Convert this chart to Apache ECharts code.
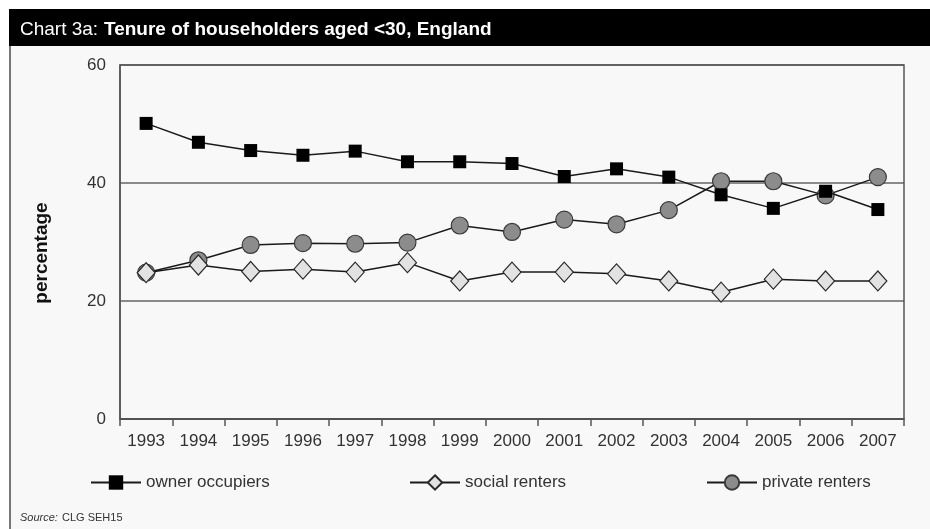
<!DOCTYPE html>
<html><head><meta charset="utf-8">
<script src="https://cdn.jsdelivr.net/npm/echarts@6/dist/echarts.min.js"></script>
<style>html,body{margin:0;padding:0;background:#fff}#c{width:930px;height:529px}</style>
</head><body><div id="c"></div>
<script>
const years = ['1993','1994','1995','1996','1997','1998','1999','2000','2001','2002','2003','2004','2005','2006','2007'];
const ownerOccupiers = [50.1,46.9,45.5,44.7,45.4,43.6,43.6,43.3,41.1,42.4,41.0,38.0,35.7,38.6,35.5];
const socialRenters = [24.8,26.1,25.0,25.4,24.9,26.5,23.4,24.9,24.9,24.6,23.4,21.5,23.7,23.4,23.4];
const privateRenters = [24.8,26.9,29.5,29.8,29.7,29.9,32.8,31.7,33.8,33.0,35.4,40.3,40.3,37.9,41.0];
const yTicks = [0,20,40,60];

const chart = echarts.init(document.getElementById('c'), null, {renderer:'canvas'});
const font = 'Liberation Sans, Arial, sans-serif';
const lineStyle = {color:'#1a1a1a', width:1.5};
const legendBase = {top:469, itemWidth:50, itemHeight:18, itemGap:10,
  textStyle:{fontFamily:font, fontSize:17, color:'#333'}, selectedMode:false};
chart.setOption({
  animation:false,
  backgroundColor:'#fff',
  graphic:[
    {type:'rect', z:-10, shape:{x:9,y:9,width:921,height:520}, style:{fill:'#f8f8f8'}},
    {type:'rect', z:1, shape:{x:9,y:9,width:921,height:37}, style:{fill:'#000'}},
    {type:'line', z:1, shape:{x1:10,y1:46,x2:10,y2:529}, style:{stroke:'#777',lineWidth:2}},
    {type:'text', z:20, x:20, y:20, style:{text:'Chart 3a:', font:'19px Liberation Sans, Arial, sans-serif', fill:'#fff'}},
    {type:'text', z:20, x:104, y:20, style:{text:'Tenure of householders aged <30, England', font:'bold 19px Liberation Sans, Arial, sans-serif', fill:'#fff'}},
    {type:'text', z:20, x:20, y:512, style:{text:'Source:', font:'italic 11px Liberation Sans, Arial, sans-serif', fill:'#333'}},
    {type:'text', z:20, x:62, y:512, style:{text:'CLG SEH15', font:'11px Liberation Sans, Arial, sans-serif', fill:'#333'}},
    {type:'text', z:20, x:42, y:253, rotation:Math.PI/2, style:{text:'percentage', font:'bold 19px Liberation Sans, Arial, sans-serif', fill:'#111', align:'center', verticalAlign:'middle'}},
    {type:'rect', z:5, shape:{x:120,y:65,width:784,height:354}, style:{fill:'none',stroke:'#555',lineWidth:1.5}}
  ],
  grid:{left:120, right:26, top:65, bottom:110, show:false},
  xAxis:{type:'category', data:years, boundaryGap:true,
    axisLine:{lineStyle:{color:'#333',width:1.5}},
    axisTick:{show:true, length:7, lineStyle:{color:'#555',width:1.5}},
    axisLabel:{fontFamily:font, fontSize:17, color:'#333', margin:14, interval:0}},
  yAxis:{type:'value', min:yTicks[0], max:yTicks[yTicks.length-1], interval:20,
    axisLine:{show:true, lineStyle:{color:'#555',width:1.5}},
    axisTick:{show:false},
    axisLabel:{fontFamily:font, fontSize:17, color:'#333', margin:14},
    splitLine:{show:true, lineStyle:{color:'#666', width:1.5}}},
  legend:[
    Object.assign({left:85, data:['owner occupiers']}, legendBase),
    Object.assign({left:404, data:['social renters']}, legendBase),
    Object.assign({left:701, data:['private renters']}, legendBase)
  ],
  series:[
    {name:'private renters', type:'line', data:privateRenters, z:2,
      symbol:'circle', symbolSize:17, lineStyle:lineStyle,
      itemStyle:{color:'#8c8c8c', borderColor:'#3a3a3a', borderWidth:1.2}},
    {name:'social renters', type:'line', data:socialRenters, z:3,
      symbol:'diamond', symbolSize:[18,20], lineStyle:lineStyle,
      itemStyle:{color:'#e2e2e2', borderColor:'#2a2a2a', borderWidth:1.2}},
    {name:'owner occupiers', type:'line', data:ownerOccupiers, z:4,
      symbol:'rect', symbolSize:13, lineStyle:lineStyle,
      itemStyle:{color:'#000', borderColor:'#000', borderWidth:0}}
  ]
});
</script></body></html>
